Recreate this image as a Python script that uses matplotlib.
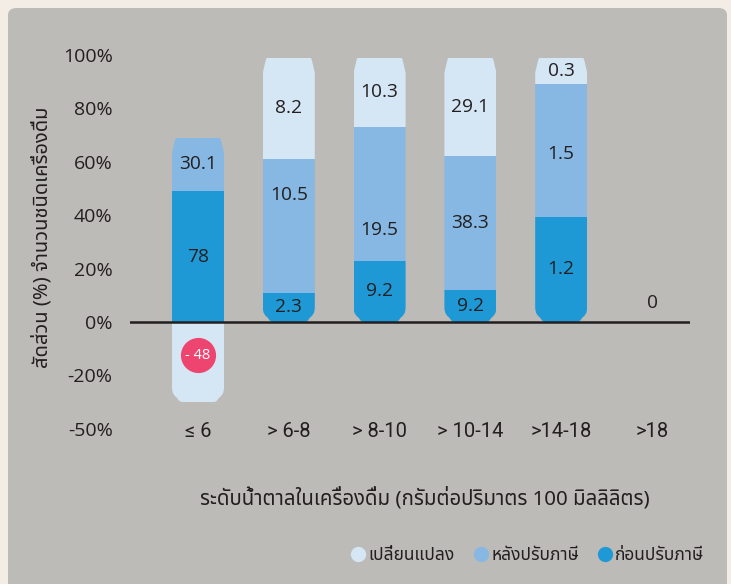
import matplotlib
matplotlib.use("Agg")
import matplotlib.pyplot as plt
from matplotlib import font_manager
from matplotlib.ft2font import FT2Font
from matplotlib.patches import Polygon, FancyBboxPatch
from matplotlib.lines import Line2D
import numpy as np

# -- data ---------------------------------------------------------------------
categories = ["≤ 6", "> 6-8", "> 8-10", "> 10-14", ">14-18", ">18"]
# visual segment heights (% of drinks)
before_tax = [49, 11, 23, 12, 39.5, 0]
after_tax = [20, 50, 50, 50, 49.5, 0]
change = [-30, 38, 26, 37, 10, 0]
# printed labels
before_lbl = ["78", "2.3", "9.2", "9.2", "1.2", "0"]
after_lbl = ["30.1", "10.5", "19.5", "38.3", "1.5", ""]
change_lbl = ["- 48", "8.2", "10.3", "29.1", "0.3", ""]
yticks = [-40, -20, 0, 20, 40, 60, 80, 100]
ytick_labels = ["-50%", "-20%", "0%", "20%", "40%", "60%", "80%", "100%"]
series_names = ["เปลี่ยนแปลง", "หลังปรับภาษี", "ก่อนปรับภาษี"]
ylabel = "สัดส่วน (%) จำนวนชนิดเครื่องดื่ม"
xlabel = "ระดับน้ำตาลในเครื่องดื่ม (กรัมต่อปริมาตร 100 มิลลิลิตร)"

# -- styles -------------------------------------------------------------------
pale, mid, dark = "#D5E6F5", "#86B8E3", "#1F99D6"
panel_bg, page_bg = "#BDBBB7", "#F3EDE5"
ink = "#231F20"
pink = "#EE4570"


def find_thai_font():
    preferred = ["Noto Sans Thai", "Noto Sans Thai Looped", "Noto Serif Thai",
                 "Loma", "Garuda", "Kinnari", "Sarabun", "Tlwg Typo", "Norasi"]
    found = {}
    for f in font_manager.fontManager.ttflist:
        try:
            if FT2Font(f.fname).get_char_index(ord("ก")):
                found.setdefault(f.name, f.fname)
        except Exception:
            pass
    for p in preferred:
        if p in found:
            return p
    return next(iter(found), "DejaVu Sans")


thai_font = find_thai_font()
num_font = ["Open Sans", "DejaVu Sans"]
cat_font = ["Liberation Sans Narrow", "Roboto", "DejaVu Sans"]
thai_family = [thai_font, "DejaVu Sans"]

# -- figure -------------------------------------------------------------------
W, H = 731, 584
fig = plt.figure(figsize=(W / 100, H / 100), dpi=100)
fig.set_facecolor(page_bg)
fig.patches.append(FancyBboxPatch((8 / W, -0.05), (W - 12) / W, 1.05 - 8 / H,
                                  boxstyle="round,pad=0,rounding_size=0.012",
                                  transform=fig.transFigure, facecolor=panel_bg,
                                  edgecolor="none", zorder=-5))

px_per = 2.67
zero_y = 322
ax_top, ax_bot = 30, 440
ax = fig.add_axes((130 / W, 1 - ax_bot / H, 560 / W, (ax_bot - ax_top) / H))
ax.set_facecolor("none")
ax.set_zorder(2)
ax.set_ylim(-(ax_bot - zero_y) / px_per, (zero_y - ax_top) / px_per)
ax.set_xlim((130 - 198) / 90.8, (690 - 198) / 90.8)
for s in ax.spines.values():
    s.set_visible(False)

x = np.arange(len(categories))
width = 0.573
hw = width / 2
top_cap, bot_cap = 5.6, 5.0

before = np.array(before_tax, float)
after = np.array(after_tax, float)
chg = np.array(change, float)
pos_chg = np.clip(chg, 0, None)
neg_chg = np.clip(chg, None, 0)


def can_outline(c, bottom, top):
    left = [(c - hw, bottom + bot_cap), (c - 0.97 * hw, bottom + 0.7 * bot_cap),
            (c - 0.9 * hw, bottom + 0.48 * bot_cap), (c - 0.8 * hw, bottom + 0.3 * bot_cap),
            (c - 0.74 * hw, bottom + 0.12 * bot_cap), (c - 0.66 * hw, bottom + 0.02 * bot_cap),
            (c - 0.5 * hw, bottom)]
    right = [(2 * c - px, py) for px, py in reversed(left)]
    upper = [(c + hw, top - top_cap), (c + 0.88 * hw, top - 0.12 * top_cap),
             (c + 0.84 * hw, top), (c - 0.84 * hw, top),
             (c - 0.88 * hw, top - 0.12 * top_cap), (c - hw, top - top_cap)]
    return Polygon(left + right + upper, closed=True, transform=ax.transData)


tops = before + after + pos_chg
bottoms = neg_chg
outlines = [can_outline(xi, b, t) if t - b > 0 else None
            for xi, b, t in zip(x, bottoms, tops)]

bars_b = ax.bar(x, before, width, color=dark, linewidth=0, zorder=2)
bars_a = ax.bar(x, after, width, bottom=before, color=mid, linewidth=0, zorder=2)
bars_c = ax.bar(x, chg, width, bottom=np.where(chg > 0, before + after, 0),
                color=pale, linewidth=0, zorder=2)
for cont in (bars_b, bars_a, bars_c):
    for rect, clip in zip(cont, outlines):
        if clip is not None:
            rect.set_clip_path(clip)

ax.axhline(0, color=ink, lw=1.8, zorder=3)

# -- value labels ---------------------------------------------------------------
mid_nudge = [0, 11.5, -13.5, 0, -1.5, 0]
lbl_kw = dict(ha="center", va="center", fontsize=13.8, color=ink, family=num_font, zorder=4)
for i in x:
    if tops[i] - bottoms[i] <= 0:
        ax.annotate(before_lbl[i], (i, 0), xytext=(0, 13.7), textcoords="offset points",
                    **lbl_kw)
        continue
    ax.text(i, before[i] / 2, before_lbl[i], **lbl_kw)
    ax.text(i, before[i] + after[i] / 2 + mid_nudge[i], after_lbl[i], **lbl_kw)
    if chg[i] > 0:
        ax.text(i, before[i] + after[i] + chg[i] / 2, change_lbl[i], **lbl_kw)
    elif chg[i] < 0:
        yc = (chg[i] + bot_cap) / 2
        ax.scatter([i], [yc], s=640, color=pink, zorder=4, linewidths=0)
        ax.text(i, yc, change_lbl[i], ha="center", va="center", fontsize=10.5,
                color="white", family=num_font, zorder=5)

ax.set_yticks(yticks)
ax.set_yticklabels(ytick_labels, family=num_font, fontsize=14, color=ink)
ax.set_xticks(x)
ax.set_xticklabels(categories, family=cat_font, fontsize=14.5, color=ink)
ax.tick_params(axis="y", length=0, pad=12.5)
ax.tick_params(axis="x", length=0, pad=-13)

fig.text(42 / W, 1 - 237 / H, ylabel, rotation=90, ha="center", va="center",
         fontsize=14.5, color=ink, family=thai_family)
fig.text(425 / W, 1 - 498 / H, xlabel, ha="center", va="center",
         fontsize=14.7, color=ink, family=thai_family)

handles = [Line2D([], [], marker="o", ls="none", markersize=11, markerfacecolor=c,
                  markeredgewidth=0) for c in (pale, mid, dark)]
fig.legend(handles, series_names, loc="center right", bbox_to_anchor=(720 / W, 1 - 555 / H),
           ncol=3, frameon=False, handletextpad=0.1, columnspacing=1.0, handlelength=1.0,
           prop=dict(family=thai_family, size=12.5), labelcolor=ink)

fig.savefig("out.png", dpi=100, facecolor=fig.get_facecolor())
